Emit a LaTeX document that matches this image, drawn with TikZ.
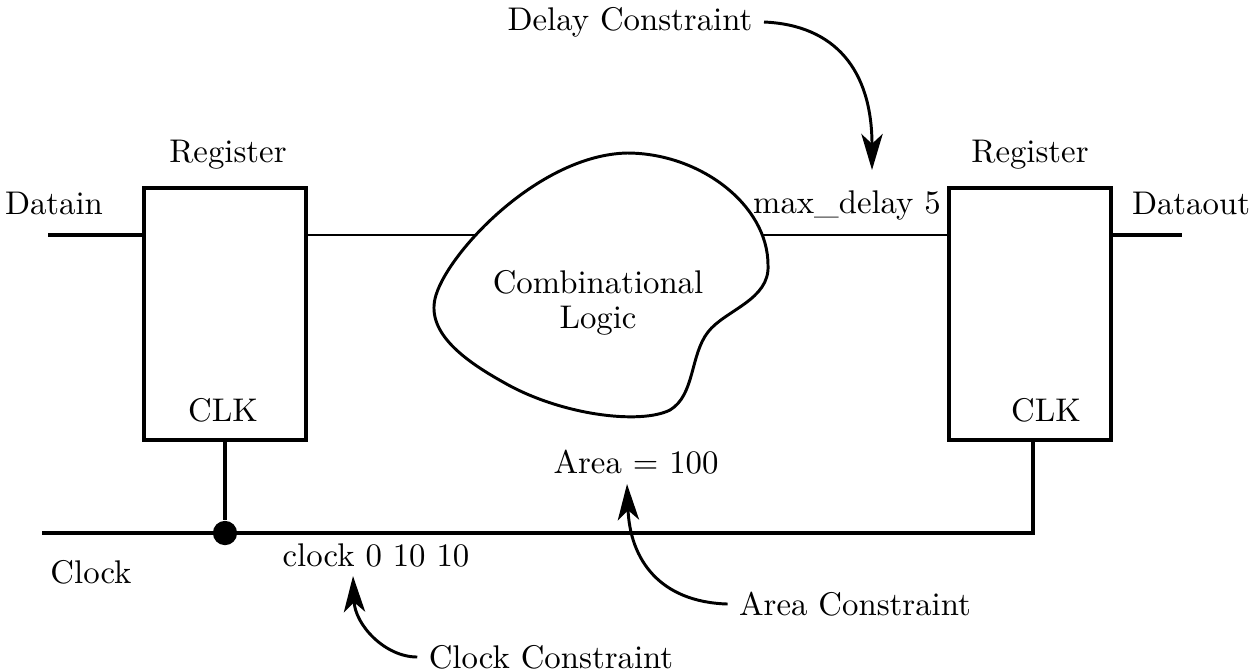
\documentclass[tikz,border=0pt]{standalone}
\usetikzlibrary{arrows.meta}
\begin{document}
\begin{tikzpicture}[x=0.305pt,y=-0.305pt,
 lbl/.style={font=\fontsize{10}{12}\selectfont, inner sep=3.33pt},
 regbox/.style={draw, line width=1.4pt, minimum width=49.4pt, minimum height=76.9pt, inner sep=0pt},
 ioline/.style={line width=1.2pt},
 thinline/.style={line width=0.6pt},
 clkline/.style={line width=1pt},
 blobline/.style={line width=0.9pt},
 pointer/.style={line width=0.9pt, -{Stealth[length=11pt,width=6.5pt,inset=3pt]}},
 junction/.style={circle, fill, inner sep=0pt, minimum size=7.4pt},
]
\useasboundingbox (0,0) rectangle (1249,671);

% registers
\node[regbox] (regL) at (225,314) {};
\node[regbox] (regR) at (1030,314) {};

% labels
\node[lbl] (regLlbl) at (228,155) {Register};
\node[lbl] (regRlbl) at (1030,155) {Register};
\node[lbl] (clkL) at (223,410) {CLK};
\node[lbl] (clkR) at (1046,410) {CLK};
\node[lbl] (datain) at (54,203) {Datain};
\node[lbl] (dataout) at (1191,203) {Dataout};
\node[lbl] (clocklbl) at (91,572) {Clock};
\node[lbl] (maxd) at (847,205) {max\_delay 5};
\node[lbl, align=center] (comb) at (598,303) {Combinational\\[-1.3pt]Logic};
\node[lbl] (area) at (636,462) {Area = 100};
\node[lbl] (clockc) at (376,555) {clock 0 10 10};
\node[lbl] (delayc) at (630,22) {Delay Constraint};
\node[lbl] (areac) at (855,604) {Area Constraint};
\node[lbl] (clockcc) at (551,657) {Clock Constraint};

% coordinates
\coordinate (dinS) at (48,235);
\coordinate (doutE) at (1182,235);
\coordinate (bl) at (475,235);
\coordinate (br) at (762,235);
\coordinate (clkS) at (42,533);
\coordinate (clkE) at (1033,533);
\node[junction] (dot) at (225,533) {};
\coordinate (delaytip) at (872,170);
\coordinate (areatip) at (627,484);
\coordinate (clocktip) at (353,576);

% blob (combinational logic cloud)
\draw[blobline] (627,153)
  .. controls (700,153) and (768,205) .. (768,265)
  .. controls (770,300) and (725,310) .. (708,332)
  .. controls (690,355) and (695,395) .. (670,410)
  .. controls (640,425) and (560,415) .. (503,382)
  .. controls (460,358) and (425,330) .. (436,295)
  .. controls (450,250) and (540,155) .. cycle;

% wires
\draw[ioline] (dinS) -- (dinS -| regL.west);
\draw[ioline] (doutE -| regR.east) -- (doutE);
\draw[thinline] (bl -| regL.east) -- (bl);
\draw[thinline] (br) -- (br -| regR.west);
\draw[clkline] (regL.south) -- (dot);
\draw[clkline] (clkS) -- (clkE) -- (clkE |- regR.south);

% constraint arrows
\draw[pointer] (delayc.east) .. controls (835,25) and (872,70) .. (delaytip);
\draw[pointer] (areac.west) .. controls (660,602) and (630,560) .. (areatip);
\draw[pointer] (clockcc.west) .. controls (385,657) and (355,625) .. (clocktip);
\end{tikzpicture}
\end{document}
